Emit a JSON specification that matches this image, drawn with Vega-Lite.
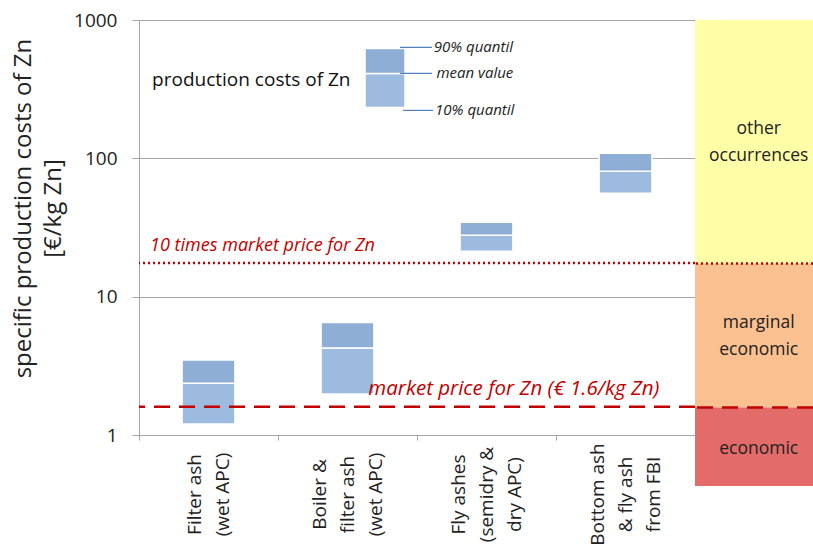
{
  "$schema": "https://vega.github.io/schema/vega-lite/v6.json",
  "background": "white",
  "padding": {"left": 11, "top": 10, "right": 0, "bottom": 0},
  "spacing": 0,
  "bounds": "flush",
  "config": {
    "font": "Open Sans",
    "view": {"stroke": null},
    "text": {"font": "Open Sans"}
  },
  "datasets": {
    "bars": [
      {"category": "Filter ash|(wet APC)", "q10": 1.2, "mean": 2.37, "q90": 3.48},
      {"category": "Boiler &|filter ash|(wet APC)", "q10": 1.98, "mean": 4.25, "q90": 6.5},
      {"category": "Fly ashes|(semidry &|dry APC)", "q10": 21.3, "mean": 27.8, "q90": 34.5},
      {"category": "Bottom ash|& fly ash|from FBI", "q10": 56, "mean": 80.5, "q90": 109}
    ],
    "legendbox": [{"q10": 233, "mean": 411, "q90": 622}],
    "zones": [
      {"zone": "other|occurrences", "lo": 17.5, "hi": 1000, "labely": 164.7},
      {"zone": "marginal|economic", "lo": 1.6, "hi": 17.5, "labely": 6.54},
      {"zone": "economic", "lo": 0.435, "hi": 1.6, "labely": 0.806}
    ],
    "one": [{}]
  },
  "hconcat": [
    {
      "width": 556,
      "height": 415,
      "view": {"stroke": "#a6a6a6"},
      "resolve": {"scale": {"x": "independent"}, "axis": {"x": "independent"}},
      "layer": [
        {
          "data": {"name": "bars"},
          "encoding": {
            "x": {
              "field": "category", "type": "nominal", "sort": null,
              "scale": {"paddingInner": 0, "paddingOuter": 0},
              "axis": {
                "title": null, "labelAngle": 270, "labelAlign": "center", "labelBaseline": "middle",
                "labelPadding": 54, "tickSize": 5, "tickBand": "extent", "tickColor": "#a6a6a6",
                "domainColor": "#a6a6a6", "labelExpr": "split(datum.label, '|')", "labelLineHeight": 28,
                "labelOffset": {"condition": {"test": "datum.value == 'Filter ash|(wet APC)'", "value": -14}, "value": -28},
                "labelFontSize": 19, "labelColor": "#222222", "labelFont": "Open Sans"
              }
            }
          },
          "layer": [
            {
              "mark": {"type": "bar", "width": {"band": 0.38}, "color": "#9dbadf", "stroke": "white", "strokeWidth": 1.5},
              "encoding": {
                "y": {
                  "field": "q10", "type": "quantitative",
                  "scale": {"type": "log", "domain": [1, 1000], "nice": false},
                  "axis": {
                    "values": [1, 10, 100, 1000], "format": "d", "grid": true, "gridColor": "#a6a6a6",
                    "tickSize": 7, "tickColor": "#a6a6a6", "domainColor": "#a6a6a6",
                    "labelFontSize": 19, "labelPadding": 15, "labelColor": "#222222", "labelFont": "Open Sans",
                    "title": ["specific production costs of Zn", "[€/kg Zn]"],
                    "titleFontSize": 24, "titleFontWeight": "normal", "titleLineHeight": 30,
                    "titleColor": "#222222", "titleFont": "Open Sans", "titlePadding": 8, "titleY": 188
                  }
                },
                "y2": {"field": "mean"}
              }
            },
            {
              "mark": {"type": "bar", "width": {"band": 0.38}, "color": "#8eaed6", "stroke": "white", "strokeWidth": 1.5},
              "encoding": {
                "y": {"field": "mean", "type": "quantitative"},
                "y2": {"field": "q90"}
              }
            }
          ]
        },
        {
          "data": {"name": "legendbox"},
          "mark": {"type": "rect", "color": "#9dbadf", "stroke": "white", "strokeWidth": 1.5},
          "encoding": {
            "x": {"datum": 1.626, "type": "quantitative", "scale": {"domain": [0, 4]}, "axis": null},
            "x2": {"datum": 1.914},
            "y": {"field": "q10", "type": "quantitative"},
            "y2": {"field": "mean"}
          }
        },
        {
          "data": {"name": "legendbox"},
          "mark": {"type": "rect", "color": "#8eaed6", "stroke": "white", "strokeWidth": 1.5},
          "encoding": {
            "x": {"datum": 1.626, "type": "quantitative", "scale": {"domain": [0, 4]}, "axis": null},
            "x2": {"datum": 1.914},
            "y": {"field": "mean", "type": "quantitative"},
            "y2": {"field": "q90"}
          }
        },
        {
          "data": {"values": [
            {"label": "90% quantil", "v": 633, "x0": 1.878, "x1": 2.108, "tx": 2.12},
            {"label": "mean value", "v": 411, "x0": 1.878, "x1": 2.108, "tx": 2.14},
            {"label": "10% quantil", "v": 222, "x0": 1.9, "x1": 2.115, "tx": 2.13}
          ]},
          "layer": [
            {
              "mark": {"type": "rule", "color": "#4f81bd", "strokeWidth": 1.2},
              "encoding": {
                "x": {"field": "x0", "type": "quantitative", "scale": {"domain": [0, 4]}, "axis": null},
                "x2": {"field": "x1"},
                "y": {"field": "v", "type": "quantitative"}
              }
            },
            {
              "mark": {"type": "text", "align": "left", "baseline": "middle", "fontSize": 15, "fontStyle": "italic", "color": "#222222"},
              "encoding": {
                "x": {"field": "tx", "type": "quantitative", "scale": {"domain": [0, 4]}, "axis": null},
                "y": {"field": "v", "type": "quantitative"},
                "text": {"field": "label"}
              }
            }
          ]
        },
        {
          "data": {"name": "one"},
          "mark": {"type": "text", "align": "left", "baseline": "middle", "fontSize": 19, "color": "#111111"},
          "encoding": {
            "x": {"datum": 0.094, "type": "quantitative", "scale": {"domain": [0, 4]}, "axis": null},
            "y": {"datum": 366, "type": "quantitative"},
            "text": {"value": "production costs of Zn"}
          }
        },
        {
          "data": {"name": "one"},
          "mark": {"type": "rule", "color": "#c00000", "strokeDash": [2, 3], "strokeWidth": 2.5},
          "encoding": {"y": {"datum": 17.5, "type": "quantitative"}}
        },
        {
          "data": {"name": "one"},
          "mark": {"type": "rule", "color": "#c00000", "strokeDash": [16, 9], "strokeWidth": 2.5},
          "encoding": {"y": {"datum": 1.6, "type": "quantitative"}}
        },
        {
          "data": {"name": "one"},
          "mark": {"type": "text", "align": "left", "baseline": "middle", "fontSize": 18, "fontStyle": "italic", "color": "#c00000"},
          "encoding": {
            "x": {"datum": 0.08, "type": "quantitative", "scale": {"domain": [0, 4]}, "axis": null},
            "y": {"datum": 23.2, "type": "quantitative"},
            "text": {"value": "10 times market price for Zn"}
          }
        },
        {
          "data": {"name": "one"},
          "mark": {"type": "text", "align": "left", "baseline": "middle", "fontSize": 20.5, "fontStyle": "italic", "color": "#c00000"},
          "encoding": {
            "x": {"datum": 1.65, "type": "quantitative", "scale": {"domain": [0, 4]}, "axis": null},
            "y": {"datum": 2.15, "type": "quantitative"},
            "text": {"value": "market price for Zn (€ 1.6/kg Zn)"}
          }
        }
      ]
    },
    {
      "width": 118,
      "height": 466,
      "layer": [
        {
          "data": {"name": "zones"},
          "mark": {"type": "rect"},
          "encoding": {
            "x": {"datum": 0, "type": "quantitative", "scale": {"domain": [0, 1]}, "axis": null},
            "x2": {"datum": 1},
            "y": {"field": "lo", "type": "quantitative", "scale": {"type": "log", "domain": [0.435, 1000], "nice": false}, "axis": null},
            "y2": {"field": "hi"},
            "color": {
              "field": "zone", "type": "nominal", "legend": null,
              "scale": {"domain": ["other|occurrences", "marginal|economic", "economic"], "range": ["#ffffa8", "#fac08f", "#e36c6a"]}
            }
          }
        },
        {
          "data": {"name": "zones"},
          "mark": {"type": "text", "align": "center", "baseline": "middle", "fontSize": 17.5, "lineBreak": "|", "lineHeight": 27, "color": "#222222"},
          "encoding": {
            "x": {"datum": 0.54, "type": "quantitative"},
            "y": {"field": "labely", "type": "quantitative"},
            "text": {"field": "zone"}
          }
        },
        {
          "data": {"name": "one"},
          "mark": {"type": "rule", "color": "#c00000", "strokeDash": [2, 3], "strokeWidth": 2.5},
          "encoding": {"y": {"datum": 17.5, "type": "quantitative"}}
        },
        {
          "data": {"name": "one"},
          "mark": {"type": "rule", "color": "#c00000", "strokeDash": [16, 9], "strokeWidth": 2.5},
          "encoding": {"y": {"datum": 1.6, "type": "quantitative"}}
        }
      ]
    }
  ]
}
